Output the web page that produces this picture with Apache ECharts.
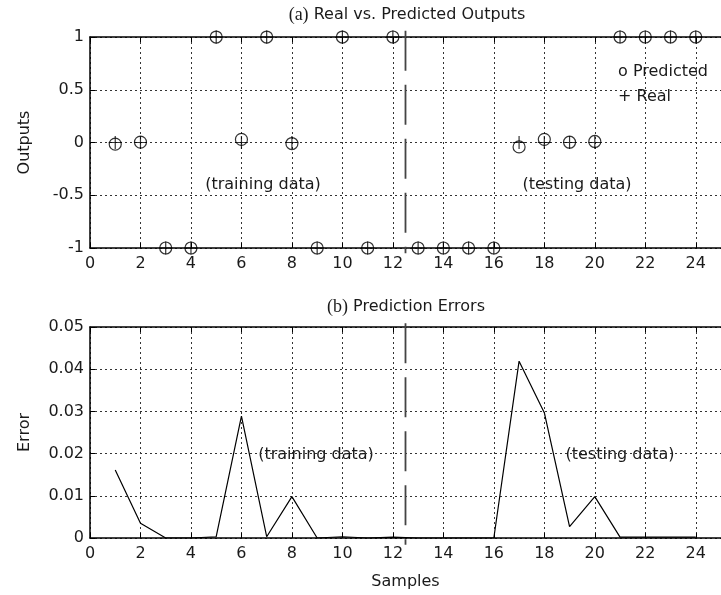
<!DOCTYPE html>
<html>
<head>
<meta charset="utf-8">
<script src="https://cdn.jsdelivr.net/npm/echarts@6/dist/echarts.min.js"></script>
<style>
html,body{margin:0;padding:0;background:#fff;}
#chart{width:721px;height:595px;}
</style>
</head>
<body>
<div id="chart"></div>
<script>
// ---- data ----
const samples = [1,2,3,4,5,6,7,8,9,10,11,12,13,14,15,16,17,18,19,20,21,22,23,24];
const realOutputs = [0,0,-1,-1,1,0,1,0,-1,1,-1,1,-1,-1,-1,-1,0,0,0,0,1,1,1,1];
const predictedOutputs = [-0.016,0.0035,-1,-1,0.9997,0.029,0.9997,-0.0098,-1,0.9997,-1,0.9998,-1,-1,-1,-1,-0.042,0.03,0.0027,0.0098,0.9998,0.9998,0.9998,0.9998];
const predictionErrors = [0.0161,0.0035,0,0,0.0003,0.0289,0.0003,0.0098,0,0.0003,0,0.0002,0,0,0,0,0.0419,0.0297,0.0027,0.0098,0.0002,0.0002,0.0002,0.0002];
const dividerX = 12.5;            // training / testing boundary
const dividerTopExtent = [1.06, -1.05];
const dividerBottomExtent = [0.0509, -0.0016];
const xTicks = {min: 0, max: 25, interval: 2};
const yTopTicks = {min: -1, max: 1, interval: 0.5};
const yBottomTicks = {min: 0, max: 0.05, interval: 0.01};

const FONT = '"DejaVu Sans", sans-serif';
const TXT = '#1a1a1a';

function xAxisMain(grid, showName) {
  return {
    type: 'value', gridIndex: grid, min: xTicks.min, max: xTicks.max, interval: xTicks.interval,
    axisLine: {show: true, onZero: false, lineStyle: {color: '#000', width: 1.5}},
    axisTick: {show: true, inside: true, length: 5, lineStyle: {color: '#000'}},
    axisLabel: {show: true, color: TXT, fontFamily: FONT, fontSize: 16, margin: 8, showMaxLabel: false},
    splitLine: {show: true, lineStyle: {color: '#333', width: 1, type: [2, 3]}},
    name: showName ? 'Samples' : '', nameLocation: 'middle', nameGap: 36,
    nameTextStyle: {color: TXT, fontFamily: FONT, fontSize: 16}
  };
}
function xAxisTop(grid) {
  return {
    type: 'value', gridIndex: grid, position: 'top', min: xTicks.min, max: xTicks.max, interval: xTicks.interval,
    axisLine: {show: true, onZero: false, lineStyle: {color: '#000', width: 1.5}},
    axisTick: {show: true, inside: true, length: 5, lineStyle: {color: '#000'}},
    axisLabel: {show: false}, splitLine: {show: false}
  };
}
function yAxisMain(grid, t, name) {
  return {
    type: 'value', gridIndex: grid, min: t.min, max: t.max, interval: t.interval,
    axisLine: {show: true, onZero: false, lineStyle: {color: '#000', width: 1.5}},
    axisTick: {show: true, inside: true, length: 5, lineStyle: {color: '#000'}},
    axisLabel: {color: TXT, fontFamily: FONT, fontSize: 16, margin: 6},
    splitLine: {show: true, lineStyle: {color: '#333', width: 1, type: [2, 3]}},
    name: name, nameLocation: 'middle', nameGap: 57, nameRotate: 90,
    nameTextStyle: {color: TXT, fontFamily: FONT, fontSize: 16}
  };
}

const pairs = (xs, ys) => xs.map((x, i) => [x, ys[i]]);

const chart = echarts.init(document.getElementById('chart'), null, {renderer: 'canvas'});
chart.setOption({
  animation: false,
  backgroundColor: '#fff',
  grid: [
    {left: 90, top: 37, width: 637, height: 211, show: false},
    {left: 90, top: 327, width: 637, height: 211, show: false}
  ],
  xAxis: [xAxisMain(0, false), xAxisMain(1, true), xAxisTop(0), xAxisTop(1)],
  yAxis: [yAxisMain(0, yTopTicks, 'Outputs'), yAxisMain(1, yBottomTicks, 'Error')],
  graphic: [
    {type: 'text', x: 407, y: 15, style: {text: '{s|(a)} Real vs. Predicted Outputs', fill: TXT, font: '16px "DejaVu Sans"', align: 'center', verticalAlign: 'middle',
      rich: {s: {fontFamily: '"Liberation Serif"', fontSize: 18, fill: TXT}}}},
    {type: 'text', x: 406, y: 307, style: {text: '{s|(b)} Prediction Errors', fill: TXT, font: '16px "DejaVu Sans"', align: 'center', verticalAlign: 'middle',
      rich: {s: {fontFamily: '"Liberation Serif"', fontSize: 18, fill: TXT}}}},
    {type: 'text', x: 263, y: 185, style: {text: '(training data)', fill: TXT, font: '16px "DejaVu Sans"', align: 'center', verticalAlign: 'middle'}},
    {type: 'text', x: 577, y: 185, style: {text: '(testing data)', fill: TXT, font: '16px "DejaVu Sans"', align: 'center', verticalAlign: 'middle'}},
    {type: 'text', x: 316, y: 455, style: {text: '(training data)', fill: TXT, font: '16px "DejaVu Sans"', align: 'center', verticalAlign: 'middle'}},
    {type: 'text', x: 620, y: 455, style: {text: '(testing data)', fill: TXT, font: '16px "DejaVu Sans"', align: 'center', verticalAlign: 'middle'}},
    {type: 'text', x: 618, y: 72, style: {text: 'o Predicted', fill: TXT, font: '16px "DejaVu Sans"', align: 'left', verticalAlign: 'middle'}},
    {type: 'text', x: 618, y: 97, style: {text: '+ Real', fill: TXT, font: '16px "DejaVu Sans"', align: 'left', verticalAlign: 'middle'}}
  ],
  series: [
    {
      name: 'Predicted', type: 'scatter', xAxisIndex: 0, yAxisIndex: 0,
      data: pairs(samples, predictedOutputs), symbol: 'circle', symbolSize: 12,
      itemStyle: {color: 'none', borderColor: '#000', borderWidth: 1.2}, z: 3
    },
    {
      name: 'Real', type: 'scatter', xAxisIndex: 0, yAxisIndex: 0,
      data: pairs(samples, realOutputs), symbol: 'path://M5,0L5,10M0,5L10,5', symbolSize: 13,
      itemStyle: {color: 'none', borderColor: '#000', borderWidth: 1.2}, z: 4
    },
    {
      name: 'Divider top', type: 'line', xAxisIndex: 0, yAxisIndex: 0, clip: false,
      data: [[dividerX, dividerTopExtent[0]], [dividerX, dividerTopExtent[1]]], symbol: 'none',
      lineStyle: {color: '#444', width: 1.8, type: [40, 14]}, z: 2
    },
    {
      name: 'Error', type: 'line', xAxisIndex: 1, yAxisIndex: 1,
      data: pairs(samples, predictionErrors), symbol: 'none',
      lineStyle: {color: '#000', width: 1.2}, z: 3
    },
    {
      name: 'Divider bottom', type: 'line', xAxisIndex: 1, yAxisIndex: 1, clip: false,
      data: [[dividerX, dividerBottomExtent[0]], [dividerX, dividerBottomExtent[1]]], symbol: 'none',
      lineStyle: {color: '#444', width: 1.8, type: [40, 14]}, z: 2
    }
  ]
});
</script>
</body>
</html>
